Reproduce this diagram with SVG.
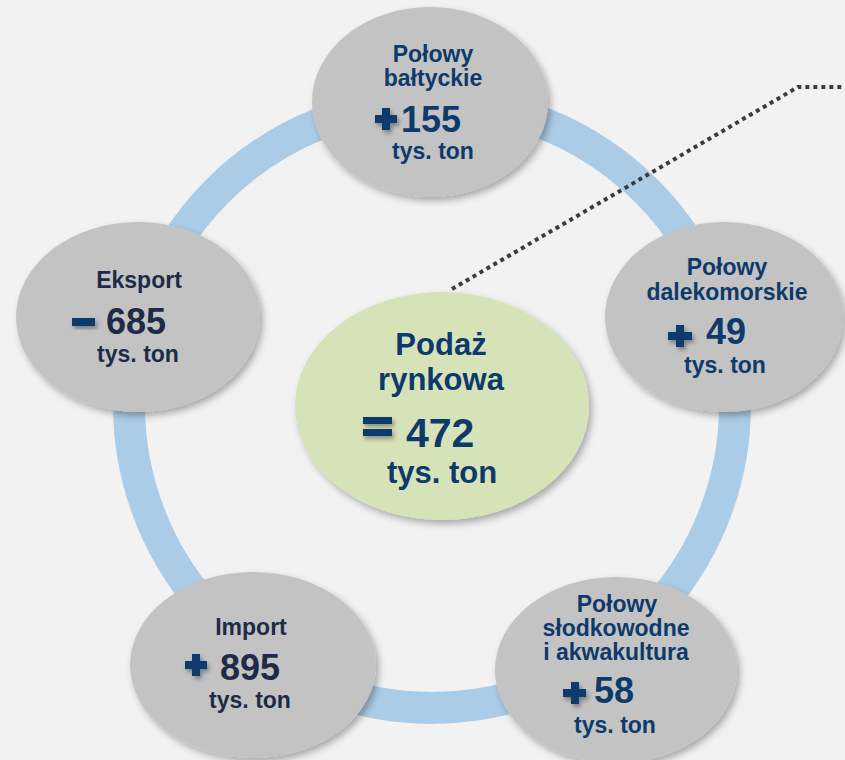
<svg xmlns="http://www.w3.org/2000/svg" width="845" height="760" viewBox="0 0 845 760">
<defs>
<filter id="sh" x="-20%" y="-20%" width="150%" height="150%">
<feDropShadow dx="3" dy="4" stdDeviation="3.5" flood-color="#000" flood-opacity="0.3"/>
</filter>
<filter id="ss" x="-50%" y="-50%" width="200%" height="200%">
<feDropShadow dx="2" dy="3" stdDeviation="2" flood-color="#000" flood-opacity="0.35"/>
</filter>
<style>
text{font-family:"Liberation Sans",Arial,sans-serif;font-weight:bold;}
.node{fill:#c3c3c3;filter:url(#sh);}
.ctr{fill:#d6e2b8;filter:url(#sh);}
.lbl{font-size:23px;fill:#0e3a6b;text-anchor:middle;}
.lbl2{font-size:23px;fill:#1e2b47;text-anchor:middle;}
.num{font-size:36px;fill:#0e3a6b;}
.num2{font-size:36px;fill:#1e2b47;}
.sym{fill:#0c3a6e;filter:url(#ss);}
.ring{fill:none;stroke:#abcce7;stroke-width:32;}
.dots{fill:none;stroke:#3c3c3c;stroke-width:4;stroke-dasharray:4 4;}
</style>
</defs>
<rect width="845" height="760" fill="#f2f2f2"/>
<g id="connectors">
<circle class="ring" cx="432" cy="405" r="303"/>
<polyline class="dots" points="452,289 798,87 845,87"/>
</g>
<g id="top-node">
<ellipse class="node" cx="430" cy="102" rx="118" ry="95"/>
<text class="lbl" x="433" y="62">Połowy</text>
<text class="lbl" x="433" y="86">bałtyckie</text>
<g class="sym"><rect x="375" y="115" width="22" height="8"/><rect x="382" y="108" width="8" height="22"/></g>
<text class="num" x="401" y="132">155</text>
<text class="lbl" x="433" y="159">tys. ton</text>
</g>
<g id="right-node">
<ellipse class="node" cx="724" cy="317" rx="119" ry="95"/>
<text class="lbl" x="727" y="275">Połowy</text>
<text class="lbl" x="727" y="300">dalekomorskie</text>
<g class="sym"><rect x="668" y="332" width="24" height="8"/><rect x="676" y="325" width="8" height="22"/></g>
<text class="num" x="706" y="344">49</text>
<text class="lbl" x="725" y="373">tys. ton</text>
</g>
<g id="left-node">
<ellipse class="node" cx="138" cy="317" rx="122" ry="95"/>
<text class="lbl2" x="139" y="288">Eksport</text>
<rect class="sym" x="72" y="318" width="23" height="8"/>
<text class="num2" x="106" y="334">685</text>
<text class="lbl2" x="138" y="362">tys. ton</text>
</g>
<g id="center-node">
<ellipse class="ctr" cx="442" cy="406" rx="147" ry="114"/>
<text class="lbl" x="441" y="355" style="font-size:31px">Podaż</text>
<text class="lbl" x="441" y="390" style="font-size:31px">rynkowa</text>
<g class="sym"><rect x="363" y="417" width="29" height="7"/><rect x="363" y="429" width="29" height="7"/></g>
<text class="num" x="406" y="447" style="font-size:41px">472</text>
<text class="lbl" x="442" y="483" style="font-size:31px">tys. ton</text>
</g>
<g id="import-node">
<ellipse class="node" cx="253" cy="665" rx="123" ry="93"/>
<text class="lbl2" x="251" y="635">Import</text>
<g class="sym"><rect x="185" y="661" width="22" height="8"/><rect x="192" y="654" width="8" height="22"/></g>
<text class="num2" x="220" y="680">895</text>
<text class="lbl2" x="250" y="708">tys. ton</text>
</g>
<g id="fresh-node">
<ellipse class="node" cx="616" cy="670" rx="121" ry="93"/>
<text class="lbl" x="617" y="612">Połowy</text>
<text class="lbl" x="616" y="636">słodkowodne</text>
<text class="lbl" x="616" y="660">i akwakultura</text>
<g class="sym"><rect x="563" y="689" width="23" height="8"/><rect x="571" y="682" width="8" height="22"/></g>
<text class="num" x="594" y="703">58</text>
<text class="lbl" x="615" y="733">tys. ton</text>
</g>
</svg>
